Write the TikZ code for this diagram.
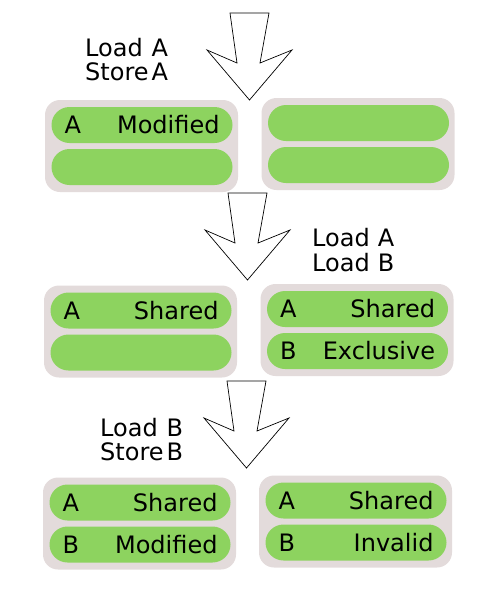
\documentclass[tikz,border=0pt]{standalone}
\usepackage{fontspec}
\setmainfont{DejaVu Sans}
\usepackage{xcolor}
\usetikzlibrary{positioning}
\definecolor{cachegray}{HTML}{E3DBDB}
\definecolor{linegreen}{HTML}{8DD35F}
\newcommand{\opstext}[5]{\begin{tabular}[t]{@{}l@{\hspace{#1}}l@{}}#2&#3\\#4&#5\end{tabular}}
\tikzset{
  cache/.style={fill=cachegray, rounded corners=15pt, minimum width=193pt, minimum height=92pt, inner sep=0pt},
  cline/.style={fill=linegreen, rounded corners=18pt, minimum width=181pt, minimum height=36pt,
    inner xsep=13pt, inner ysep=0pt, text width=155pt, text height=17pt, text depth=0pt,
    font=\fontsize{24}{24}\selectfont},
  ops/.style={anchor=base west, inner sep=0pt, font=\fontsize{24}{23.5}\selectfont},
  pics/steparrow/.style={code={
    \draw[line width=0.7pt, fill=white, line join=miter]
      (-19.5,0) -- (19.5,0) -- (10.5,50) -- (42.5,37) -- (0,87) -- (-42.5,37) -- (-12.5,50) -- cycle;}}
}
\begin{document}
\begin{tikzpicture}[x=1pt,y=-1pt]
\useasboundingbox (0,0) rectangle (500,600);
% step 1
\pic at (249.5,13) {steparrow};
\node[ops] (ops1) at (85,56) {\opstext{3pt}{Load}{A}{Store}{A}};
\node[cache] (c1l) at (141.5,146) {};
\node[cline] (c1l-a) at ([shift={(0.5,-21)}]c1l.center) {A\hfill Modified};
\node[cline] (c1l-b) at ([shift={(0.5,21)}]c1l.center) {};
\node[cache] (c1r) at (358,144) {};
\node[cline] (c1r-a) at ([shift={(0.5,-21)}]c1r.center) {};
\node[cline] (c1r-b) at ([shift={(0.5,21)}]c1r.center) {};
% step 2
\pic at (247.5,193) {steparrow};
\node[ops] (ops2) at (312,246) {\opstext{8pt}{Load}{A}{Load}{B}};
\node[cache] (c2l) at (140.5,331.5) {};
\node[cline] (c2l-a) at ([shift={(0.5,-21)}]c2l.center) {A\hfill Shared};
\node[cline] (c2l-b) at ([shift={(0.5,21)}]c2l.center) {};
\node[cache] (c2r) at (357,330) {};
\node[cline] (c2r-a) at ([shift={(0.5,-21)}]c2r.center) {A\hfill Shared};
\node[cline] (c2r-b) at ([shift={(0.5,21)}]c2r.center) {B\hfill Exclusive};
% step 3
\pic at (246.5,381) {steparrow};
\node[ops] (ops3) at (100,436) {\opstext{3pt}{Load}{B}{Store}{B}};
\node[cache] (c3l) at (139.5,523.5) {};
\node[cline] (c3l-a) at ([shift={(0.5,-21)}]c3l.center) {A\hfill Shared};
\node[cline] (c3l-b) at ([shift={(0.5,21)}]c3l.center) {B\hfill Modified};
\node[cache] (c3r) at (355.5,521.5) {};
\node[cline] (c3r-a) at ([shift={(0.5,-21)}]c3r.center) {A\hfill Shared};
\node[cline] (c3r-b) at ([shift={(0.5,21)}]c3r.center) {B\hfill Invalid};
\end{tikzpicture}
\end{document}
